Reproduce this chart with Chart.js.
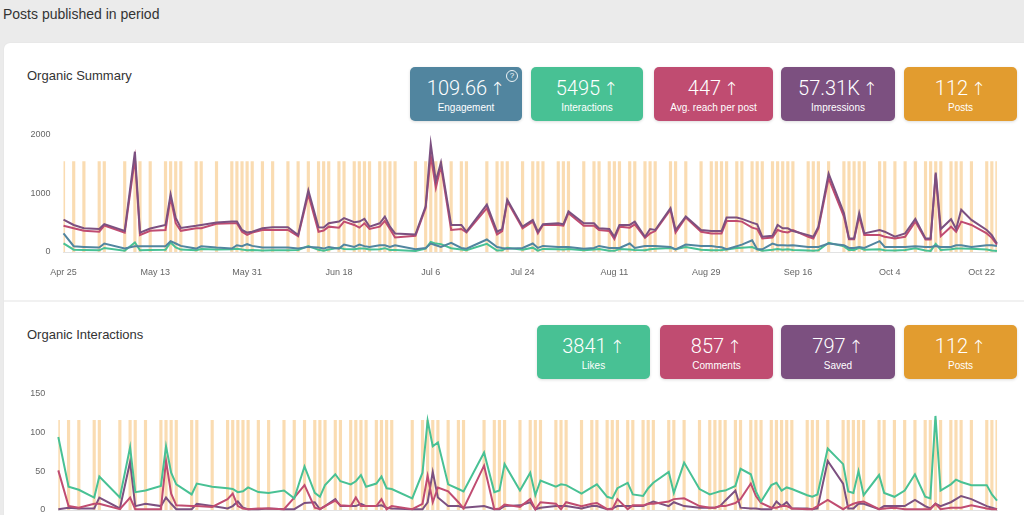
<!DOCTYPE html>
<html><head><meta charset="utf-8">
<script src="https://cdn.jsdelivr.net/npm/chart.js@4.4.0/dist/chart.umd.min.js"></script>
<style>
html,body{margin:0;padding:0;width:1024px;height:515px;overflow:hidden;background:#ebebeb;font-family:"Liberation Sans",Arial,Helvetica,sans-serif;}
.abs{position:absolute;}
#title{left:3px;top:6px;font-size:14px;color:#333;}
#card{left:4px;top:43px;width:1040px;height:520px;background:#fff;border-radius:6px;box-shadow:0 0 2px rgba(0,0,0,0.06);}
#divider{left:4px;top:300px;width:1020px;height:2px;background:#f1f1f1;}
.h{font-size:13px;color:#333;left:27px;}
.box{position:absolute;border-radius:5px;color:#fff;text-align:center;box-shadow:0 1px 3px rgba(0,0,0,0.14);}
.num{position:absolute;left:0;right:0;top:9px;font-family:Roboto,"Liberation Sans",sans-serif;font-weight:300;font-size:20px;line-height:24px;white-space:nowrap;}
.arr{font-family:Roboto,"Noto Sans","DejaVu Sans",sans-serif;font-weight:300;font-size:18px;margin-left:3px;}
.lab{position:absolute;left:0;right:0;top:35px;font-size:10px;line-height:12px;}
.q{position:absolute;right:4px;top:3px;width:10px;height:10px;border:1px solid rgba(255,255,255,0.9);border-radius:50%;font-size:8px;line-height:10px;text-align:center;}
canvas{position:absolute;}
</style></head>
<body>
<div id="title" class="abs">Posts published in period</div>
<div id="card" class="abs"></div>
<div id="divider" class="abs"></div>
<div class="abs h" style="top:68px;">Organic Summary</div>
<div class="abs h" style="top:327px;">Organic Interactions</div>
<div id="boxes"></div>
<canvas id="c1" width="990" height="166" style="left:20px;top:116px;"></canvas>
<canvas id="c2" width="990" height="165" style="left:20px;top:375px;"></canvas>
<script>
// ---- data (day offsets from Apr 25) ----
const postDays = [0,2,4,7,8,12,14,15,17,20, 21,22,23,26,27,30,33,34,35,36, 37,39,41,44,46,48,50,51,52,54,
 55,57,58,59,60,62,63,64,65,69, 71,72,73,74,76,78,79,83,85,86, 87,90,92,93,94,97,98,99,102,104,
 105,107,108,109,111,112,114,115,116,119, 120,122,125,127,128,129,130,132,133,135, 136,137,139,140,141,142,143,146,147,148,
 150,153,154,155,156,157,160,161,163,165, 167,169,170,171,172,174,175,176,178,181, 182,183];

const impressions = [550,460,405,390,475,360,1705,330,400,460, 980,580,410,445,460,500,520,520,375,330,
 345,405,420,420,290,1050,420,415,488,517, 575,506,517,563,431,488,603,431,316,299,
 776,1839,1207,1523,460,460,345,805,345,391, 891,431,546,345,471,488,471,690,488,488,
 402,391,259,460,460,517,259,391,374,747, 374,603,374,356,356,356,586,586,563,500,
 471,259,276,460,402,402,356,287,259,431, 1333,661,230,230,661,316,374,345,259,316,
 563,230,230,1351,391,557,391,718,546,374, 287,144];

const reach = [445,405,360,345,450,330,1590,290,360,375, 925,490,360,405,405,480,490,490,345,290,
 330,375,375,375,270,980,345,365,431,414, 517,460,414,488,391,431,529,391,247,276,
 747,1638,1092,1466,374,391,333,747,299,356, 862,402,517,316,460,460,448,661,448,448,
 374,356,218,431,414,471,241,316,356,718, 333,586,345,316,316,316,529,529,517,414,
 391,230,247,374,345,333,374,259,230,402, 1253,603,218,218,603,287,287,259,230,259,
 517,213,213,1322,270,431,345,517,460,316, 241,126];

const engagement = [318,98,87,75,145,58,98,98,98,98, 185,145,104,58,98,75,58,115,98,133,
 104,75,75,75,58,87,75,58,86,57, 126,86,126,100,86,115,115,86,115,46,
 69,144,115,86,155,69,57,213,86,69, 57,69,144,69,103,86,86,86,57,69,
 103,69,69,69,144,69,103,100,103,86, 46,126,103,103,90,80,46,98,126,200,
 46,46,144,115,115,110,115,86,86,86, 144,115,69,69,86,69,184,86,86,86,
 98,86,86,103,86,86,115,115,86,115, 115,103];

const interactions = [146,40,33,28,69,21,161,30,35,38, 163,79,41,28,49,41,46,55,41,31,
 33,27,28,28,34,99,37,21,44,74, 50,45,60,60,42,46,65,34,36,18,
 59,171,143,134,64,44,31,138,25,29, 73,37,74,23,53,45,41,49,30,44,
 49,20,20,49,43,33,31,46,56,67, 48,83,37,28,30,36,44,67,72,84,
 46,22,38,51,37,46,33,24,21,29, 157,96,33,34,70,40,48,31,27,33,
 62,24,19,139,33,48,58,59,54,41, 26,16];

const likes = [94,30,26,16,43,16,81,23,25,31, 82,48,33,20,34,30,28,27,23,24,
 29,23,22,25,15,56,22,17,32,46, 37,33,37,45,30,34,43,28,27,15,
 48,115,82,87,33,27,24,74,23,25, 59,25,48,19,38,30,33,32,21,29,
 33,17,15,28,35,20,18,28,35,49, 22,61,27,20,22,24,25,31,53,46,
 24,11,32,35,25,29,27,19,17,20, 79,59,24,22,50,19,45,22,17,25,
 46,17,15,121,25,33,39,36,32,32, 20,12];

const comments = [51,5,3,8,8,1,16,1,1,1, 63,21,6,5,5,4,14,21,5,2,
 1,2,2,1,16,32,3,1,5,12, 6,5,16,5,5,5,14,1,5,1,
 8,44,10,29,24,10,2,57,1,2, 7,4,14,1,10,8,1,10,5,8,
 9,1,1,14,1,6,6,8,8,11, 14,15,5,3,3,5,5,9,14,34,
 18,9,3,3,5,5,2,1,1,5, 13,1,5,8,10,11,1,2,3,1,
 1,1,1,8,1,3,3,3,6,2, 1,1];

const saved = [1,3,2,2,16,2,62,5,8,5, 16,8,1,1,8,5,2,5,11,3,
 1,1,2,1,1,9,10,1,5,14, 5,5,5,8,5,5,6,3,2,1,
 1,10,49,16,5,5,3,5,1,1, 5,6,10,1,3,5,5,5,2,5,
 5,1,2,5,5,5,5,8,11,5, 10,5,3,3,3,5,12,25,3,2,
 2,1,1,11,5,10,2,2,1,2, 63,34,2,2,8,8,1,5,5,5,
 13,5,2,8,5,10,14,18,14,5, 3,1];

const POST_MARK = 1;
const summaryStats = [["109.66","Engagement"],["5495","Interactions"],["447","Avg. reach per post"],["57.31K","Impressions"],["112","Posts"]];
const interactionStats = [["3841","Likes"],["857","Comments"],["797","Saved"],["112","Posts"]];

// ---- styles ----
const C = {blue:'#51859f', green:'#48c194', pink:'#c04c71', purple:'#7c5080', orange:'#e29c2f'};
const BAR_COLOR = 'rgba(243,178,85,0.45)';
const FONT = '"Liberation Sans", Arial, Helvetica, sans-serif';
const MONTHS = ['Jan','Feb','Mar','Apr','May','Jun','Jul','Aug','Sep','Oct','Nov','Dec'];
const START = Date.UTC(2023,3,25);
function dayLabel(v){ const d = new Date(START + v*86400000); return MONTHS[d.getUTCMonth()] + ' ' + d.getUTCDate(); }

// ---- stat boxes ----
function addBoxes(stats, colors, xs, widths, top, qIndex){
  const host = document.getElementById('boxes');
  stats.forEach((s,i)=>{
    const b = document.createElement('div');
    b.className='box';
    b.style.left = xs[i]+'px'; b.style.top = top+'px'; b.style.width = widths[i]+'px'; b.style.height='54px';
    b.style.background = colors[i];
    b.innerHTML = '<div class="num">'+s[0]+'<span class="arr">↑</span></div><div class="lab">'+s[1]+'</div>' + (i===qIndex?'<div class="q">?</div>':'');
    host.appendChild(b);
  });
}
addBoxes(summaryStats, [C.blue,C.green,C.pink,C.purple,C.orange], [410,531,654,781,904], [112,112,119,114,113], 67, 0);
addBoxes(interactionStats, [C.green,C.pink,C.purple,C.orange], [537,660,781,904], [113,113,114,113], 325, -1);

// ---- charts ----
function makeChart(id, yWidth, padTop, yMax, yStep, lines){
  const ds = lines.map(l=>({
    type:'line', data: postDays.map((d,i)=>({x:d, y:l.values[i]})),
    borderColor:l.color, borderWidth:2, pointRadius:0, tension:0, yAxisID:'y', order:l.order, clip:false
  }));
  ds.push({type:'bar', data: postDays.map(d=>({x:d, y:POST_MARK})), backgroundColor:BAR_COLOR,
    barThickness:2.5, yAxisID:'y2', order:100});
  new Chart(document.getElementById(id), {
    data:{datasets:ds},
    options:{
      responsive:false, animation:false, events:[],
      layout:{padding:{top:padTop, right:7, left:0, bottom:0}},
      plugins:{legend:{display:false}, tooltip:{enabled:false}},
      scales:{
        x:{type:'linear', min:0, max:183, offset:false,
           grid:{display:false, drawTicks:false}, border:{display:true, color:'#e2e2e2'},
           ticks:{stepSize:18, includeBounds:false, autoSkip:false, maxRotation:0, padding:15,
                  color:'#666', font:{size:9, family:FONT}, callback:dayLabel},
           afterFit(s){ s.height = 30; }},
        y:{min:0, max:yMax, grid:{display:false, drawTicks:false}, border:{display:false},
           ticks:{stepSize:yStep, padding:13, color:'#666', font:{size:9, family:FONT}, callback:v=>String(v)},
           afterFit(s){ s.width = yWidth; }},
        y2:{display:false, min:0, max:1.3}
      }
    }
  });
}
makeChart('c1', 43.5, 0, 2000, 1000, [
  {values:interactions, color:C.green, order:4},
  {values:engagement, color:C.blue, order:3},
  {values:reach, color:C.pink, order:2},
  {values:impressions, color:C.purple, order:1}
]);
makeChart('c2', 38.3, 0, 150, 50, [
  {values:saved, color:C.purple, order:3},
  {values:comments, color:C.pink, order:2},
  {values:likes, color:C.green, order:1}
]);
</script>
</body></html>
